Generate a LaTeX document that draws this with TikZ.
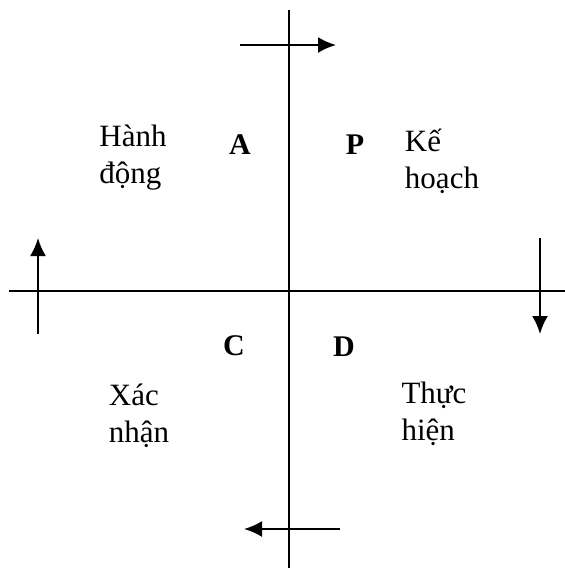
\documentclass[tikz,border=0pt]{standalone}
\usepackage{fontspec}
\setmainfont{Liberation Serif}
\usepackage{tikz}
\usetikzlibrary{arrows.meta,positioning}

\begin{document}
\begin{tikzpicture}[x=1pt,y=-1pt,
    axis/.style={line width=2.2pt},
    turn/.style={line width=2.2pt,-{Latex[length=18pt,width=16pt]}},
    letter/.style={font=\fontsize{30}{34}\selectfont\bfseries},
    phase/.style={font=\fontsize{31}{37}\selectfont,align=left}]
  \useasboundingbox (0,0) rectangle (565,568);
  % axes
  \coordinate (top) at (289,10);
  \coordinate (bottom) at (289,568);
  \coordinate (left) at (9,291);
  \coordinate (right) at (565,291);
  \draw[axis] (top) -- (bottom);
  \draw[axis] (left) -- (right);
  % cycle arrows
  \coordinate (t1) at (240,45);  \coordinate (t2) at (336,45);
  \coordinate (r1) at (540,238); \coordinate (r2) at (540,334);
  \coordinate (b1) at (340,529); \coordinate (b2) at (244,529);
  \coordinate (l1) at (38,334);  \coordinate (l2) at (38,238);
  \draw[turn] (t1) -- (t2);
  \draw[turn] (r1) -- (r2);
  \draw[turn] (b1) -- (b2);
  \draw[turn] (l1) -- (l2);
  % quadrant letters
  \node[letter] (A) at (240,145) {A};
  \node[letter] (P) at (355,145) {P};
  \node[letter] (C) at (234,346) {C};
  \node[letter] (D) at (344,347) {D};
  % phase names
  \node[phase] (act) at (133,158) {Hành\\động};
  \node[phase] (plan) at (442,161) {Kế\\hoạch};
  \node[phase] (check) at (139,416) {Xác\\nhận};
  \node[phase] (do) at (434,414) {Thực\\hiện};
\end{tikzpicture}
\end{document}
